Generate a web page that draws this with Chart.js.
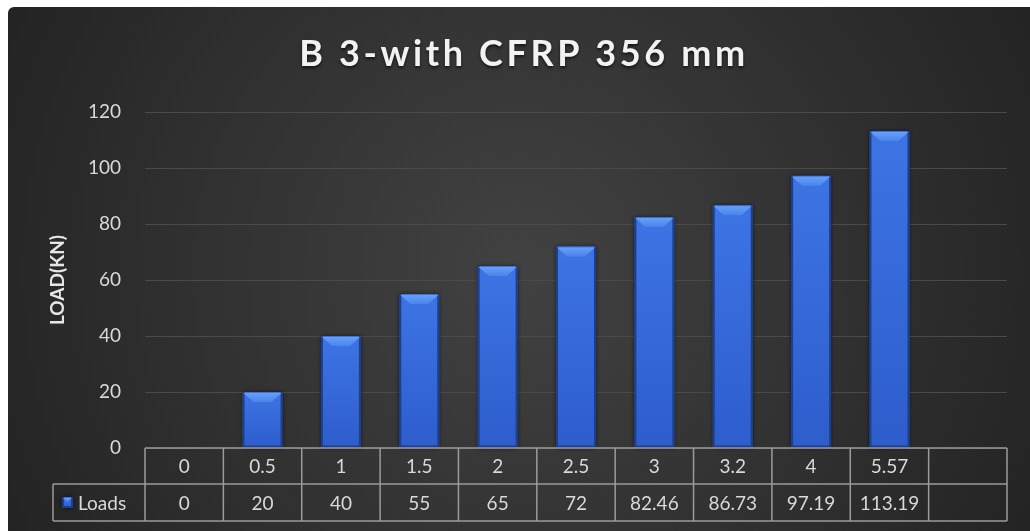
<!DOCTYPE html>
<html>
<head>
<meta charset="utf-8">
<script src="https://cdn.jsdelivr.net/npm/chart.js@4"></script>
<style>
  html, body { margin: 0; padding: 0; background: #fff; }
  #wrap { width: 1030px; height: 531px; }
</style>
</head>
<body>
<div id="wrap"><canvas id="chart"></canvas></div>
<script>
// Dados do gráfico
const titleText = 'B 3-with CFRP 356 mm';
const categories = ['0', '0.5', '1', '1.5', '2', '2.5', '3', '3.2', '4', '5.57', ''];
const loads = [0, 20, 40, 55, 65, 72, 82.46, 86.73, 97.19, 113.19, null];
const loadLabels = ['0', '20', '40', '55', '65', '72', '82.46', '86.73', '97.19', '113.19', ''];
const seriesName = 'Loads';
const yMin = 0, yMax = 120, yStep = 20;

const FONT = 'Lato, "Open Sans", sans-serif';
const textColor = '#d9d9d9';
const tableLine = '#9b9b9b';

// Fundo escuro com gradiente radial
const backgroundPlugin = {
    id: 'bg',
    beforeDraw(chart) {
        const ctx = chart.ctx;
        const w = chart.width, h = chart.height;
        ctx.save();
        ctx.fillStyle = '#ffffff';
        ctx.fillRect(0, 0, w, h);
        const g = ctx.createRadialGradient(520, 270, 0, 520, 270, 600);
        g.addColorStop(0, '#424242');
        g.addColorStop(1, '#222222');
        ctx.fillStyle = g;
        ctx.beginPath();
        ctx.roundRect(8, 7, w - 8, h - 7, [6, 0, 0, 0]);
        ctx.fill();
        ctx.restore();
    }
};

// Título com espaçamento entre letras
const titlePlugin = {
    id: 'bigTitle',
    afterDraw(chart) {
        const ctx = chart.ctx;
        ctx.save();
        ctx.font = 'bold 36px ' + FONT;
        ctx.letterSpacing = '3.6px';
        ctx.textAlign = 'center';
        ctx.textBaseline = 'alphabetic';
        ctx.shadowColor = 'rgba(0,0,0,0.6)';
        ctx.shadowBlur = 3;
        ctx.shadowOffsetY = 2;
        ctx.fillStyle = '#f2f2f2';
        ctx.fillText(titleText, 524, 66);
        ctx.restore();
    }
};

// Efeito de chanfro nas barras
function bevelBar(ctx, left, right, top, bottom) {
    const w = right - left;
    const b = Math.min(10, (bottom - top) / 2);
    // sombra
    ctx.save();
    ctx.shadowColor = 'rgba(0,0,0,0.55)';
    ctx.shadowBlur = 4;
    ctx.fillStyle = '#1c3f8e';
    ctx.fillRect(left, top, w, bottom - top);
    ctx.restore();
    // corpo
    const body = ctx.createLinearGradient(0, top, 0, bottom);
    body.addColorStop(0, '#3d74e4');
    body.addColorStop(1, '#2e5dcc');
    ctx.fillStyle = body;
    ctx.fillRect(left + 2, top, w - 4, bottom - top - 2);
    // topo claro
    const tg = ctx.createLinearGradient(0, top, 0, top + b);
    tg.addColorStop(0, '#6aa2f8');
    tg.addColorStop(1, '#4a84ec');
    ctx.fillStyle = tg;
    ctx.beginPath();
    ctx.moveTo(left + 1, top + 1);
    ctx.lineTo(right - 1, top + 1);
    ctx.lineTo(right - 1 - b, top + b);
    ctx.lineTo(left + 1 + b, top + b);
    ctx.closePath();
    ctx.fill();
}

const bevelPlugin = {
    id: 'bevel',
    afterDatasetsDraw(chart) {
        const ctx = chart.ctx;
        const meta = chart.getDatasetMeta(0);
        ctx.save();
        meta.data.forEach((bar, i) => {
            if (loads[i] === null || loads[i] === 0) return;
            const p = bar.getProps(['x', 'y', 'base', 'width'], true);
            bevelBar(ctx, p.x - p.width / 2, p.x + p.width / 2, p.y, p.base);
        });
        ctx.restore();
    }
};

// Tabela de dados abaixo do eixo
const tablePlugin = {
    id: 'dataTable',
    afterDraw(chart) {
        const ctx = chart.ctx;
        const area = chart.chartArea;
        const n = categories.length;
        const colW = (area.right - area.left) / n;
        const y0 = area.bottom, y1 = y0 + 36, y2 = y1 + 37;
        const legendLeft = 53;
        ctx.save();
        ctx.strokeStyle = tableLine;
        ctx.lineWidth = 1.5;
        ctx.beginPath();
        ctx.moveTo(area.left, y0); ctx.lineTo(area.right, y0);
        ctx.moveTo(legendLeft, y1); ctx.lineTo(area.right, y1);
        ctx.moveTo(legendLeft, y2); ctx.lineTo(area.right, y2);
        ctx.moveTo(legendLeft, y1); ctx.lineTo(legendLeft, y2);
        for (let i = 0; i <= n; i++) {
            const x = area.left + i * colW;
            ctx.moveTo(x, y0); ctx.lineTo(x, y2);
        }
        ctx.stroke();

        ctx.fillStyle = textColor;
        ctx.font = '19px ' + FONT;
        ctx.textAlign = 'center';
        ctx.textBaseline = 'middle';
        const xs = chart.scales.x;
        categories.forEach((c, i) => {
            const x = xs.getPixelForValue(i);
            ctx.fillText(c, x, (y0 + y1) / 2 + 1);
            ctx.fillText(loadLabels[i], x, (y1 + y2) / 2 + 1);
        });

        // legenda
        bevelBar(ctx, 62, 73, 497, 508);
        ctx.textAlign = 'left';
        ctx.fillStyle = textColor;
        ctx.fillText(seriesName, 78, (y1 + y2) / 2 + 1);
        ctx.restore();
    }
};

new Chart(document.getElementById('chart'), {
    type: 'bar',
    data: {
        labels: categories,
        datasets: [{
            label: seriesName,
            data: loads,
            backgroundColor: '#3a70dc',
            borderWidth: 0,
            categoryPercentage: 1,
            barPercentage: 0.51
        }]
    },
    options: {
        responsive: true,
        maintainAspectRatio: false,
        animation: false,
        layout: { padding: { left: 8, right: 23, top: 112, bottom: 83 } },
        plugins: {
            legend: { display: false },
            title: { display: false },
            tooltip: { enabled: false }
        },
        scales: {
            x: { display: false },
            y: {
                min: yMin,
                max: yMax,
                ticks: {
                    stepSize: yStep,
                    color: textColor,
                    font: { family: FONT, size: 19 },
                    padding: 24
                },
                grid: { color: '#4a4a4a', lineWidth: 1, drawTicks: false },
                border: { display: false },
                title: {
                    display: true,
                    text: 'LOAD(KN)',
                    color: '#e6e6e6',
                    font: { family: FONT, size: 19, weight: 'bold' },
                    padding: { top: 38, bottom: 0 }
                },
                afterFit(scale) { scale.width = 137; }
            }
        }
    },
    plugins: [backgroundPlugin, bevelPlugin, tablePlugin, titlePlugin]
});
</script>
</body>
</html>
